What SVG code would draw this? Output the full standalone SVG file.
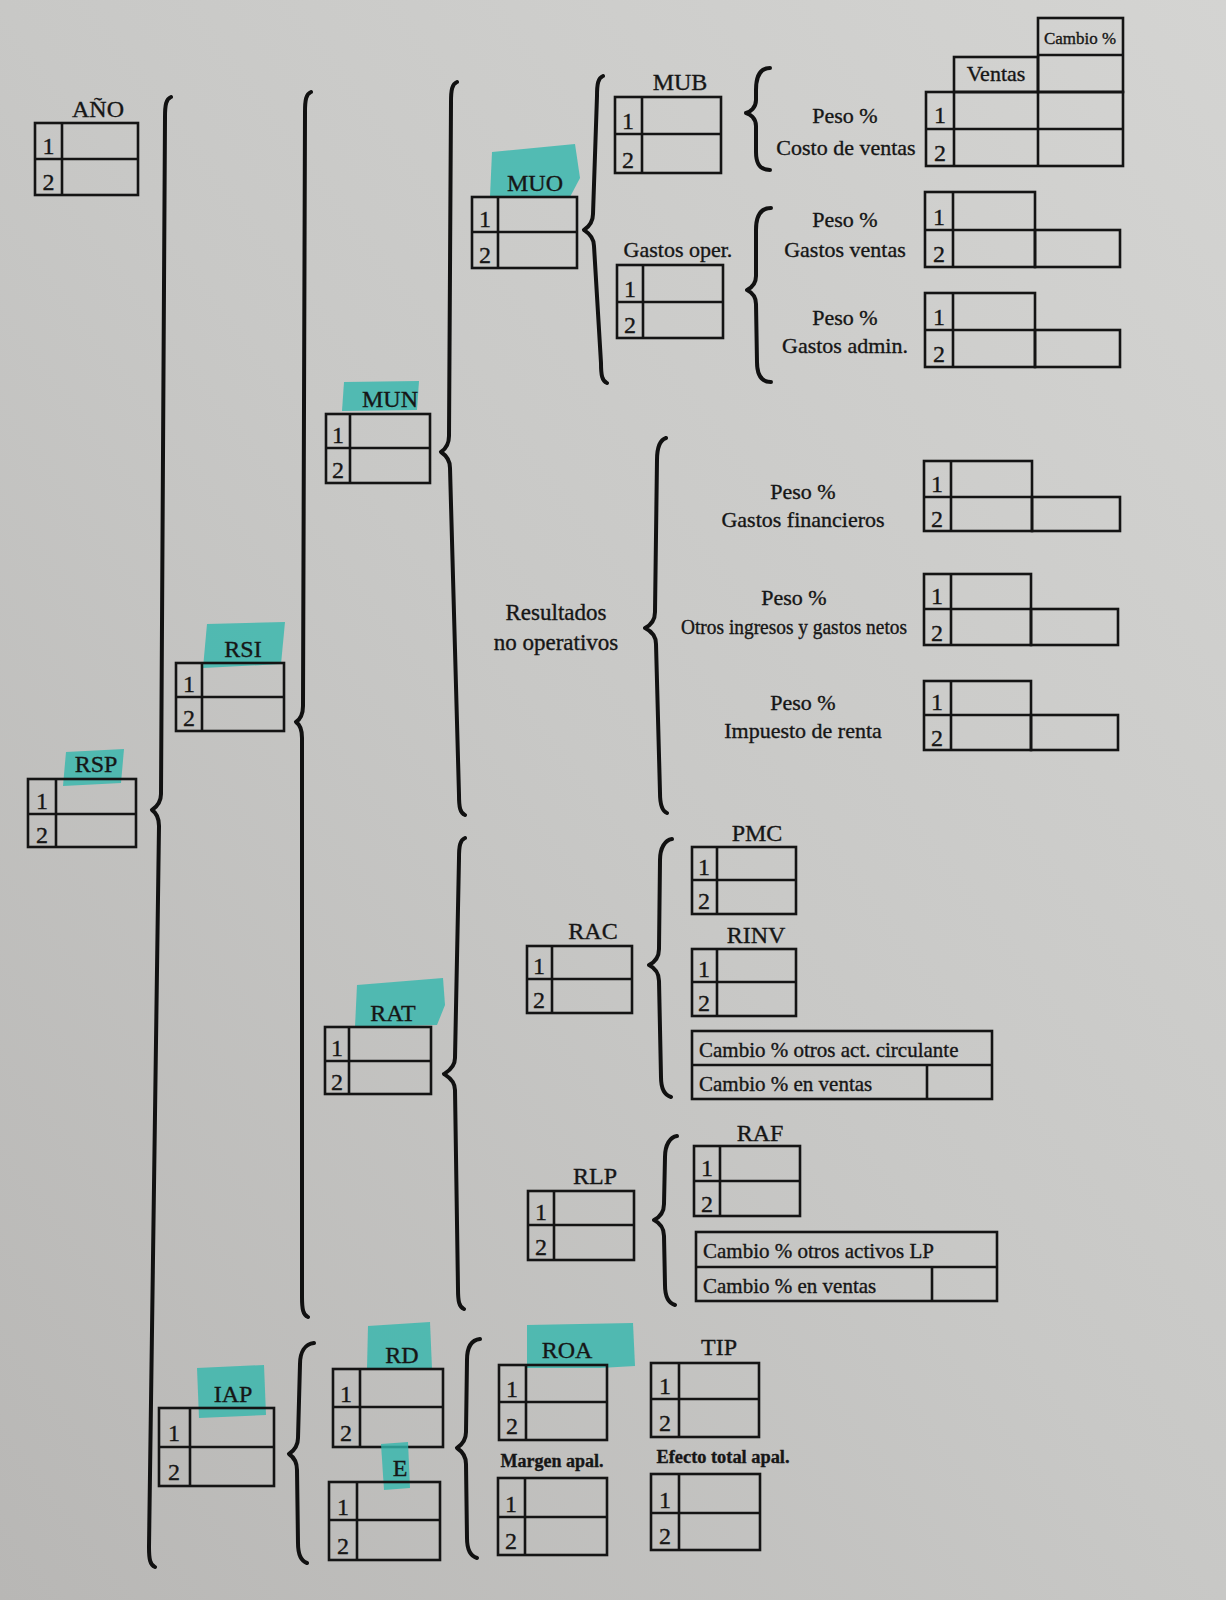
<svg xmlns="http://www.w3.org/2000/svg" width="1226" height="1600" viewBox="0 0 1226 1600">
<defs>
<linearGradient id="paper" x1="1" y1="0" x2="0" y2="1">
<stop offset="0" stop-color="#d4d4d2"/>
<stop offset="0.5" stop-color="#c8c8c6"/>
<stop offset="1" stop-color="#b8b7b5"/>
</linearGradient>
<style>
.b{fill:none;stroke:#141414;stroke-width:2.6}
.br{fill:none;stroke:#111;stroke-width:4;stroke-linecap:round;stroke-linejoin:round}
text{font-family:"Liberation Serif","Times New Roman",serif;fill:#161616;stroke:#161616;stroke-width:0.35}
.l{font-size:24px;text-anchor:middle}
.n{font-size:24px;text-anchor:middle}
.p{font-size:22px;text-anchor:middle}
.c{font-size:21px}
.s{font-size:18px;text-anchor:middle;font-weight:bold}
.hl{fill:#33b7ac;opacity:.8}
</style>
</defs>
<rect x="0" y="0" width="1226" height="1600" fill="url(#paper)"/>

<g id="connectors">
<path class="br" d="M171,97 C166,99 165,105 165,117 L161,794 C161,804 155,808 152,810 C155,812 159,816 159,826 L149,1547 C149,1559 150,1565 155,1567"/>
<path class="br" d="M311,92 C306,94 305,100 305,112 L303,706 C303,716 299,720 296,722 C299,724 302,728 302,738 L302,1297 C302,1309 303,1315 308,1317"/>
<path class="br" d="M457,82 C452,84 451,90 451,102 L449,436 C449,446 444,450 441,452 C444,454 450,458 450,468 L459,795 C459,807 460,813 465,815"/>
<path class="br" d="M465,838 C460,840 459,846 459,858 L455,1058 C455,1068 447,1072 444,1074 C447,1076 455,1080 455,1090 L458,1289 C458,1301 459,1307 464,1309"/>
<path class="br" d="M603,76 C598,78 597,84 597,96 L593,214 C593,224 587,228 584,230 C587,232 594,236 594,246 L601,363 C601,375 602,381 607,383"/>
<path class="br" d="M770,68 C760,68 756,76 756,90 L756,100 C756,108 750,112 746,113 C750,114 756,118 756,126 L756,152 C756,164 760,170 770,170"/>
<path class="br" d="M771,208 C761,208 756,216 756,230 L756,276 C756,284 751,288 747,290 C751,292 756,296 756,304 L757,362 C757,374 761,382 771,382"/>
<path class="br" d="M666,438 C660,440 657,448 657,460 L655,612 C655,622 649,626 645,628 C649,630 656,634 656,644 L660,793 C660,805 662,811 667,813"/>
<path class="br" d="M672,839 C665,840 660,848 660,860 L659,949 C659,959 653,963 649,965 C653,967 659,971 659,981 L661,1077 C661,1089 664,1095 671,1097"/>
<path class="br" d="M677,1136 C670,1137 665,1145 665,1157 L664,1204 C664,1214 658,1218 654,1220 C658,1222 664,1226 664,1236 L665,1285 C665,1297 668,1303 675,1305"/>
<path class="br" d="M314,1343 C305,1344 300,1352 300,1364 L298,1438 C298,1448 292,1452 289,1454 C292,1456 297,1460 297,1470 L298,1543 C298,1555 301,1561 307,1563"/>
<path class="br" d="M480,1339 C471,1340 467,1348 467,1360 L466,1432 C466,1442 460,1446 457,1448 C460,1450 466,1454 466,1464 L467,1538 C467,1550 470,1556 477,1558"/>
</g>

<g id="ano">
<text class="l" x="98" y="117">AÑO</text>
<rect class="b" x="35" y="123" width="103" height="72"/>
<path class="b" d="M62,123 V195 M35,159 H138"/>
<text class="n" x="48.5" y="154">1</text><text class="n" x="48.5" y="190">2</text>
</g>

<g id="rsp">
<polygon class="hl" points="66,752 124,749 121,783 63,786"/>
<text class="l" x="96" y="772">RSP</text>
<rect class="b" x="28" y="779" width="108" height="68"/>
<path class="b" d="M56,779 V847 M28,814 H136"/>
<text class="n" x="42" y="809">1</text><text class="n" x="42" y="843">2</text>
</g>

<g id="rsi">
<polygon class="hl" points="207,624 285,622 281,664 203,668"/>
<text class="l" x="243" y="657">RSI</text>
<rect class="b" x="176" y="663" width="108" height="68"/>
<path class="b" d="M202,663 V731 M176,697 H284"/>
<text class="n" x="189" y="692">1</text><text class="n" x="189" y="726">2</text>
</g>

<g id="mun">
<polygon class="hl" points="344,382 419,381 417,410 342,411"/>
<text class="l" x="390" y="407">MUN</text>
<rect class="b" x="326" y="414" width="104" height="69"/>
<path class="b" d="M350,414 V483 M326,448 H430"/>
<text class="n" x="338" y="443">1</text><text class="n" x="338" y="478">2</text>
</g>

<g id="muo">
<polygon class="hl" points="492,152 575,144 580,178 570,197 490,197"/>
<text class="l" x="535" y="191">MUO</text>
<rect class="b" x="472" y="197" width="105" height="71"/>
<path class="b" d="M498,197 V268 M472,232 H577"/>
<text class="n" x="485" y="227">1</text><text class="n" x="485" y="263">2</text>
</g>

<g id="mub">
<text class="l" x="680" y="90">MUB</text>
<rect class="b" x="615" y="97" width="106" height="76"/>
<path class="b" d="M642,97 V173 M615,134 H721"/>
<text class="n" x="628" y="129">1</text><text class="n" x="628" y="168">2</text>
</g>

<g id="gastos-oper">
<text class="p" x="678" y="257">Gastos oper.</text>
<rect class="b" x="617" y="265" width="106" height="73"/>
<path class="b" d="M643,265 V338 M617,302 H723"/>
<text class="n" x="630" y="297">1</text><text class="n" x="630" y="333">2</text>
</g>

<g id="costo-ventas">
<text class="p" x="845" y="123">Peso %</text>
<text class="p" x="846" y="155">Costo de ventas</text>
<rect class="b" x="1038" y="18" width="85" height="74"/>
<path class="b" d="M1038,55 H1123"/>
<text x="1080" y="44" font-size="17" text-anchor="middle" textLength="72" lengthAdjust="spacingAndGlyphs">Cambio %</text>
<rect class="b" x="954" y="57" width="84" height="35"/>
<text class="p" x="996" y="81">Ventas</text>
<rect class="b" x="926" y="92" width="197" height="74"/>
<path class="b" d="M954,92 V166 M1038,92 V166 M926,129 H1123"/>
<text class="n" x="940" y="123">1</text><text class="n" x="940" y="161">2</text>
</g>

<g id="gastos-ventas">
<text class="p" x="845" y="227">Peso %</text>
<text class="p" x="845" y="257">Gastos ventas</text>
<rect class="b" x="925" y="192" width="110" height="75"/>
<path class="b" d="M953,192 V267 M925,230 H1035"/>
<rect class="b" x="1035" y="230" width="85" height="37"/>
<text class="n" x="939" y="225">1</text><text class="n" x="939" y="262">2</text>
</g>

<g id="gastos-admin">
<text class="p" x="845" y="325">Peso %</text>
<text class="p" x="845" y="353">Gastos admin.</text>
<rect class="b" x="925" y="293" width="110" height="74"/>
<path class="b" d="M953,293 V367 M925,330 H1035"/>
<rect class="b" x="1035" y="330" width="85" height="37"/>
<text class="n" x="939" y="325">1</text><text class="n" x="939" y="362">2</text>
</g>

<g id="resultados">
<text x="556" y="620" font-size="23" text-anchor="middle">Resultados</text>
<text x="556" y="650" font-size="23" text-anchor="middle">no operativos</text>
</g>

<g id="gastos-financieros">
<text class="p" x="803" y="499">Peso %</text>
<text class="p" x="803" y="527">Gastos financieros</text>
<rect class="b" x="924" y="461" width="108" height="70"/>
<path class="b" d="M951,461 V531 M924,497 H1032"/>
<rect class="b" x="1032" y="497" width="88" height="34"/>
<text class="n" x="937" y="492">1</text><text class="n" x="937" y="527">2</text>
</g>

<g id="otros-ingresos">
<text class="p" x="794" y="605">Peso %</text>
<text x="794" y="634" font-size="20" text-anchor="middle" textLength="226" lengthAdjust="spacingAndGlyphs">Otros ingresos y gastos netos</text>
<rect class="b" x="924" y="574" width="107" height="71"/>
<path class="b" d="M951,574 V645 M924,609 H1031"/>
<rect class="b" x="1031" y="609" width="87" height="36"/>
<text class="n" x="937" y="604">1</text><text class="n" x="937" y="641">2</text>
</g>

<g id="impuesto-renta">
<text class="p" x="803" y="710">Peso %</text>
<text class="p" x="803" y="738">Impuesto de renta</text>
<rect class="b" x="924" y="681" width="107" height="69"/>
<path class="b" d="M951,681 V750 M924,715 H1031"/>
<rect class="b" x="1031" y="715" width="87" height="35"/>
<text class="n" x="937" y="710">1</text><text class="n" x="937" y="746">2</text>
</g>

<g id="rat">
<polygon class="hl" points="357,985 443,978 445,1005 437,1025 355,1027"/>
<text class="l" x="393" y="1021">RAT</text>
<rect class="b" x="325" y="1027" width="106" height="67"/>
<path class="b" d="M349,1027 V1094 M325,1061 H431"/>
<text class="n" x="337" y="1056">1</text><text class="n" x="337" y="1090">2</text>
</g>

<g id="pmc">
<text class="l" x="757" y="841">PMC</text>
<rect class="b" x="692" y="847" width="104" height="67"/>
<path class="b" d="M717,847 V914 M692,880 H796"/>
<text class="n" x="704" y="875">1</text><text class="n" x="704" y="909">2</text>
</g>

<g id="rinv">
<text class="l" x="756" y="943">RINV</text>
<rect class="b" x="692" y="949" width="104" height="67"/>
<path class="b" d="M717,949 V1016 M692,982 H796"/>
<text class="n" x="704" y="977">1</text><text class="n" x="704" y="1011">2</text>
</g>

<g id="rac">
<text class="l" x="593" y="939">RAC</text>
<rect class="b" x="527" y="946" width="105" height="67"/>
<path class="b" d="M552,946 V1013 M527,979 H632"/>
<text class="n" x="539" y="974">1</text><text class="n" x="539" y="1008">2</text>
</g>

<g id="cambio-act-circulante">
<rect class="b" x="692" y="1031" width="300" height="68"/>
<path class="b" d="M692,1065 H992 M927,1065 V1099"/>
<text class="c" x="699" y="1057">Cambio % otros act. circulante</text>
<text class="c" x="699" y="1091">Cambio % en ventas</text>
</g>

<g id="raf">
<text class="l" x="760" y="1141">RAF</text>
<rect class="b" x="694" y="1146" width="106" height="70"/>
<path class="b" d="M720,1146 V1216 M694,1181 H800"/>
<text class="n" x="707" y="1176">1</text><text class="n" x="707" y="1212">2</text>
</g>

<g id="rlp">
<text class="l" x="595" y="1184">RLP</text>
<rect class="b" x="528" y="1191" width="106" height="69"/>
<path class="b" d="M554,1191 V1260 M528,1225 H634"/>
<text class="n" x="541" y="1220">1</text><text class="n" x="541" y="1255">2</text>
</g>

<g id="cambio-activos-lp">
<rect class="b" x="696" y="1232" width="301" height="69"/>
<path class="b" d="M696,1267 H997 M932,1267 V1301"/>
<text class="c" x="703" y="1258">Cambio % otros activos LP</text>
<text class="c" x="703" y="1293">Cambio % en ventas</text>
</g>

<g id="iap">
<polygon class="hl" points="197,1368 264,1365 266,1415 199,1418"/>
<text class="l" x="233" y="1402">IAP</text>
<rect class="b" x="159" y="1408" width="115" height="78"/>
<path class="b" d="M190,1408 V1486 M159,1447 H274"/>
<text class="n" x="174" y="1441">1</text><text class="n" x="174" y="1480">2</text>
</g>

<g id="rd">
<polygon class="hl" points="368,1326 430,1322 432,1369 367,1369"/>
<text class="l" x="402" y="1363">RD</text>
<rect class="b" x="333" y="1369" width="110" height="78"/>
<path class="b" d="M360,1369 V1447 M333,1407 H443"/>
<text class="n" x="346" y="1402">1</text><text class="n" x="346" y="1441">2</text>
</g>

<g id="e">
<polygon class="hl" points="381,1444 408,1442 410,1488 384,1490"/>
<text class="l" x="400" y="1476">E</text>
<rect class="b" x="329" y="1482" width="111" height="78"/>
<path class="b" d="M357,1482 V1560 M329,1520 H440"/>
<text class="n" x="343" y="1515">1</text><text class="n" x="343" y="1554">2</text>
</g>

<g id="roa">
<polygon class="hl" points="527,1325 633,1323 635,1366 600,1368 527,1368"/>
<text class="l" x="567" y="1358">ROA</text>
<rect class="b" x="499" y="1365" width="108" height="75"/>
<path class="b" d="M526,1365 V1440 M499,1402 H607"/>
<text class="n" x="512" y="1397">1</text><text class="n" x="512" y="1434">2</text>
</g>

<g id="tip">
<text class="l" x="719" y="1355">TIP</text>
<rect class="b" x="651" y="1363" width="108" height="74"/>
<path class="b" d="M679,1363 V1437 M651,1399 H759"/>
<text class="n" x="665" y="1394">1</text><text class="n" x="665" y="1431">2</text>
</g>

<g id="margen-apal">
<text class="s" x="552" y="1467" textLength="103" lengthAdjust="spacingAndGlyphs">Margen apal.</text>
<rect class="b" x="498" y="1478" width="109" height="77"/>
<path class="b" d="M525,1478 V1555 M498,1517 H607"/>
<text class="n" x="511" y="1512">1</text><text class="n" x="511" y="1549">2</text>
</g>

<g id="efecto-total-apal">
<text class="s" x="723" y="1463" textLength="133" lengthAdjust="spacingAndGlyphs">Efecto total apal.</text>
<rect class="b" x="651" y="1474" width="109" height="76"/>
<path class="b" d="M679,1474 V1550 M651,1513 H760"/>
<text class="n" x="665" y="1508">1</text><text class="n" x="665" y="1544">2</text>
</g>
</svg>
